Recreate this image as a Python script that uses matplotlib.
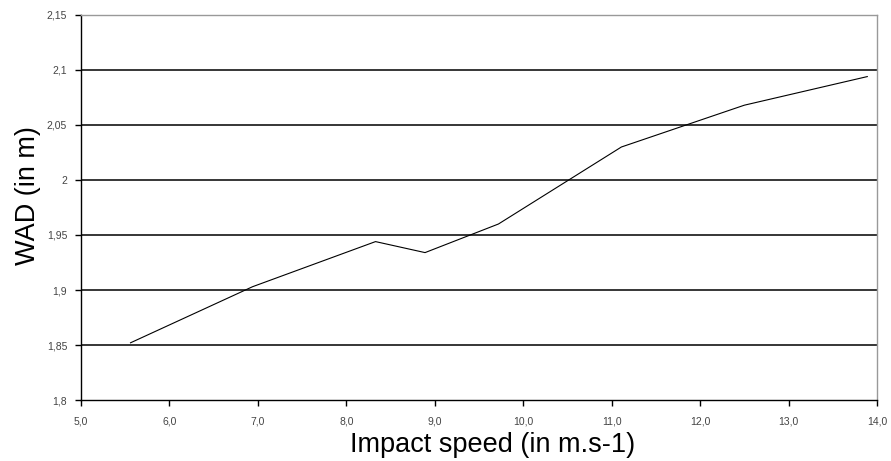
import matplotlib
matplotlib.use('Agg')
import matplotlib.pyplot as plt
import numpy as np

plt.rcParams['font.family'] = ['Liberation Sans', 'DejaVu Sans']

# impact speed (m/s) vs wrap around distance (m)
speed = [5.56, 6.94, 8.33, 8.89, 9.72, 11.11, 12.5, 13.89]
wad = [1.852, 1.903, 1.944, 1.934, 1.960, 2.030, 2.068, 2.094]

x_ticks = [5, 6, 7, 8, 9, 10, 11, 12, 13, 14]
y_ticks = [1.8, 1.85, 1.9, 1.95, 2.0, 2.05, 2.1, 2.15]
y_labels = ['1,8', '1,85', '1,9', '1,95', '2', '2,05', '2,1', '2,15']

fig = plt.figure(figsize=(8.91, 4.61), dpi=100)
ax = fig.add_axes([0.0909, 0.1323, 0.8934, 0.8352])

for yv in y_ticks[1:-1]:
    ax.axhline(yv, color='black', linewidth=1.1, zorder=1)

ax.plot(speed, wad, color='black', linewidth=0.8, zorder=3)

ax.set_xlim(5, 14)
ax.set_ylim(1.8, 2.15)
ax.set_xticks(x_ticks)
ax.set_xticklabels(['{:.1f}'.format(v).replace('.', ',') for v in x_ticks])
ax.set_yticks(y_ticks)
ax.set_yticklabels(y_labels)

ax.tick_params(axis='both', direction='out', length=4, width=1, colors='black',
               labelsize=7.5, labelcolor='#444444')
ax.tick_params(axis='x', pad=8)
ax.tick_params(axis='y', pad=6)

ax.spines['left'].set_color('black')
ax.spines['bottom'].set_color('black')
ax.spines['top'].set_color('#999999')
ax.spines['right'].set_color('#999999')
for s in ax.spines.values():
    s.set_linewidth(1.0)

ax.set_xlabel('Impact speed (in m.s-1)', fontsize=19.5, labelpad=4)
ax.set_ylabel('WAD (in m)', fontsize=19.5, labelpad=4)
ax.xaxis.label.set_x(0.5176)
ax.yaxis.label.set_y(0.532)

fig.savefig('out.png', dpi=100)
